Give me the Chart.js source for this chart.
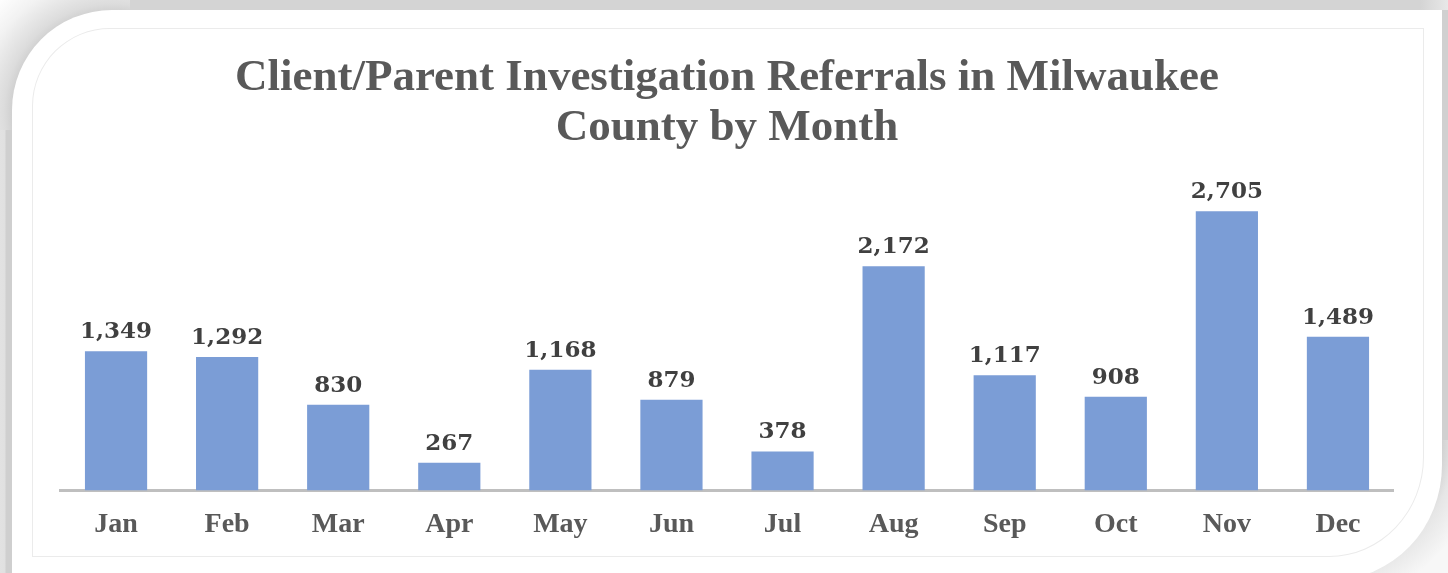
<!DOCTYPE html>
<html>
<head>
<meta charset="utf-8">
<script src="https://cdn.jsdelivr.net/npm/chart.js@4.4.1/dist/chart.umd.min.js"></script>
<style>
  html, body { margin: 0; padding: 0; }
  body { width: 1448px; height: 573px; position: relative; overflow: hidden;
         background: linear-gradient(to right, #e2e2e2 0px, #e0e0e0 5px, #cfcfcf 6px, #cfcfcf 12px, #f2f2f2 12px, #f2f2f2 1441px, #d0d0d0 1442px); }
  #topband { position: absolute; left: 0; top: 0; width: 1448px; height: 10px;
             background: linear-gradient(to right, #e6e6e6 0px, #d4d4d4 120px, #d4d4d4 1420px, #e8e8e8 1448px); }
  #corner { position: absolute; left: 0; top: 0; width: 130px; height: 130px;
            background: radial-gradient(circle at 112px 112px, #c9c9c9 95px, #dcdcdc 108px, #f2f2f2 135px, #ffffff 160px); }
  #shadowbr { position: absolute; left: 1320px; top: 440px; width: 128px; height: 133px;
              background: radial-gradient(circle at 0px 0px, #cfcfcf 120px, #e6e6e6 135px, #f7f7f7 165px); }
  #card { position: absolute; left: 12px; top: 10px; width: 1430px; height: 570px; background: #ffffff;
          border-top-left-radius: 100px; border-bottom-right-radius: 110px 115px; }
  #inner { position: absolute; left: 32px; top: 28px; width: 1390px; height: 527px;
           border: 1px solid #ebebeb; border-top-left-radius: 78px; border-bottom-right-radius: 95px 100px; }
  #wrap { position: absolute; left: 0; top: 0; width: 1448px; height: 573px; }
</style>
</head>
<body>
<div id="topband"></div>
<div id="corner"></div>
<div id="shadowbr"></div>
<div id="card"></div>
<div id="inner"></div>
<div id="wrap"><canvas id="c" width="1448" height="573"></canvas></div>
<script>
const categories = ["Jan", "Feb", "Mar", "Apr", "May", "Jun", "Jul", "Aug", "Sep", "Oct", "Nov", "Dec"];
const referrals = [1349, 1292, 830, 267, 1168, 879, 378, 2172, 1117, 908, 2705, 1489];
const titleLines = ["Client/Parent Investigation Referrals in Milwaukee", "County by Month"];

const valueLabels = {
  id: 'valueLabels',
  afterDatasetsDraw(chart) {
    const ctx = chart.ctx;
    const meta = chart.getDatasetMeta(0);
    ctx.save();
    ctx.font = 'bold 23px "DejaVu Serif"';
    ctx.fillStyle = '#404040';
    ctx.textAlign = 'center';
    ctx.textBaseline = 'alphabetic';
    meta.data.forEach((bar, i) => {
      ctx.fillText(referrals[i].toLocaleString('en-US'), bar.x, bar.y - 13);
    });
    ctx.restore();
  }
};

new Chart(document.getElementById('c'), {
  type: 'bar',
  data: {
    labels: categories,
    datasets: [{
      data: referrals,
      backgroundColor: '#7b9dd6',
      borderWidth: 0,
      barPercentage: 0.56,
      categoryPercentage: 1.0
    }]
  },
  options: {
    responsive: false,
    animation: false,
    events: [],
    layout: { padding: { left: 60.5, right: 54.5, top: 53, bottom: 13 } },
    plugins: {
      legend: { display: false },
      tooltip: { enabled: false },
      title: {
        display: true,
        text: titleLines,
        color: '#595959',
        font: { family: '"Liberation Serif"', size: 45, weight: 'bold', lineHeight: 1.12 },
        padding: { top: 0, bottom: 27 }
      }
    },
    scales: {
      x: {
        grid: { display: false, drawTicks: false },
        border: { display: true, color: '#bfbfbf', width: 3 },
        ticks: { color: '#595959', padding: 18, font: { family: '"Liberation Serif"', size: 28, weight: 'bold' } }
      },
      y: {
        display: false,
        min: 0,
        max: 3000
      }
    }
  },
  plugins: [valueLabels]
});
</script>
</body>
</html>
